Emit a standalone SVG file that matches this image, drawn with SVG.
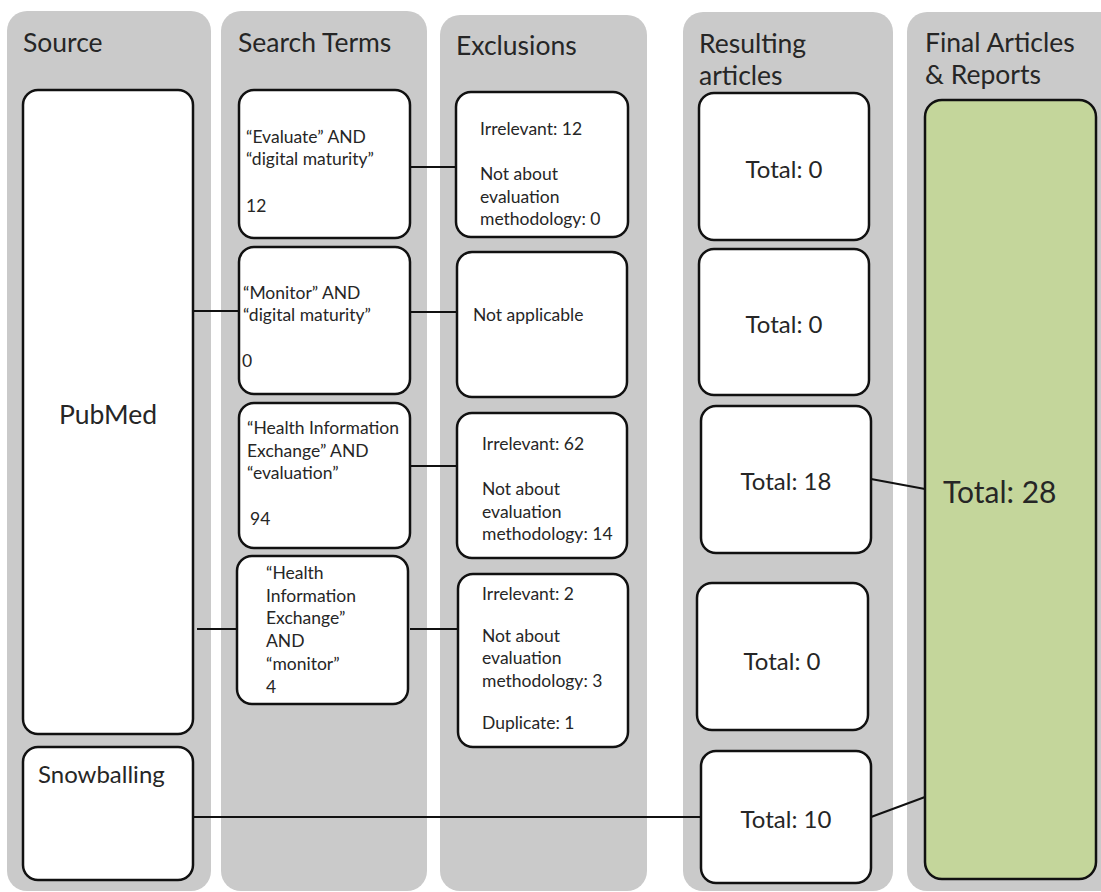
<svg xmlns="http://www.w3.org/2000/svg" width="1101" height="892" viewBox="0 0 1101 892">
<style>
.col{fill:#cacaca}
.box{fill:#ffffff;stroke:#111;stroke-width:2.5}
.fin{fill:#c4d69b;stroke:#111;stroke-width:2.5}
text{font-family:Lato,"Open Sans","Liberation Sans",sans-serif;fill:#262626}
.h{font-size:26.5px}
.s{font-size:17.5px}
.t{font-size:24px;text-anchor:middle}
.big{font-size:30px}
.c{stroke:#111;stroke-width:2;fill:none}
</style>
<rect width="1101" height="892" fill="#ffffff"/>
<g id="columns">
<rect class="col" x="7" y="11" width="204" height="880" rx="20"/>
<rect class="col" x="221" y="11" width="206" height="880" rx="20"/>
<rect class="col" x="440" y="15" width="207" height="876" rx="20"/>
<rect class="col" x="683" y="12" width="210" height="879" rx="20"/>
<rect class="col" x="907" y="12" width="215" height="879" rx="20"/>
<text class="h" x="23" y="52">Source</text>
<text class="h" x="238" y="52">Search Terms</text>
<text class="h" x="456" y="55">Exclusions</text>
<text class="h" x="699" y="53">Resulting</text>
<text class="h" x="699" y="85">articles</text>
<text class="h" x="925" y="52">Final Articles</text>
<text class="h" x="925" y="84">&amp; Reports</text>
</g>
<g id="connectors">
<line class="c" x1="188" y1="311" x2="239" y2="311"/>
<line class="c" x1="197" y1="629" x2="237" y2="629"/>
<line class="c" x1="410" y1="167" x2="456" y2="167"/>
<line class="c" x1="410" y1="312" x2="457" y2="312"/>
<line class="c" x1="410" y1="466" x2="457" y2="466"/>
<line class="c" x1="410" y1="629" x2="458" y2="629"/>
<line class="c" x1="187" y1="817" x2="701" y2="817"/>
<line class="c" x1="871" y1="479" x2="925" y2="489"/>
<line class="c" x1="871" y1="817" x2="925" y2="797"/>
</g>
<g id="pubmed">
<rect class="box" x="23" y="90" width="170" height="644" rx="15"/>
<text class="h" x="108" y="424" text-anchor="middle">PubMed</text>
</g>
<g id="snowballing">
<rect class="box" x="23" y="747" width="170" height="133" rx="15"/>
<text x="38" y="783" font-size="24">Snowballing</text>
</g>
<g id="search1">
<rect class="box" x="239" y="90" width="171" height="148" rx="15"/>
<text class="s" x="246" y="143">“Evaluate” AND</text>
<text class="s" x="246" y="165">“digital maturity”</text>
<text class="s" x="246" y="212">12</text>
</g>
<g id="search2">
<rect class="box" x="239" y="247" width="171" height="147" rx="15"/>
<text class="s" x="243" y="299">“Monitor” AND</text>
<text class="s" x="243" y="321">“digital maturity”</text>
<text class="s" x="242" y="367">0</text>
</g>
<g id="search3">
<rect class="box" x="239" y="403" width="171" height="145" rx="15"/>
<text class="s" x="247" y="434">“Health Information</text>
<text class="s" x="247" y="457">Exchange” AND</text>
<text class="s" x="247" y="479">“evaluation”</text>
<text class="s" x="250" y="525">94</text>
</g>
<g id="search4">
<rect class="box" x="237" y="556" width="171" height="148" rx="15"/>
<text class="s" x="266" y="579">“Health</text>
<text class="s" x="266" y="602">Information</text>
<text class="s" x="266" y="624">Exchange”</text>
<text class="s" x="266" y="647">AND</text>
<text class="s" x="266" y="670">“monitor”</text>
<text class="s" x="266" y="693">4</text>
</g>
<g id="excl1">
<rect class="box" x="456" y="92" width="172" height="145" rx="15"/>
<text class="s" x="480" y="135">Irrelevant: 12</text>
<text class="s" x="480" y="180">Not about</text>
<text class="s" x="480" y="203">evaluation</text>
<text class="s" x="480" y="225">methodology: 0</text>
</g>
<g id="excl2">
<rect class="box" x="457" y="252" width="170" height="145" rx="15"/>
<text class="s" x="473" y="321">Not applicable</text>
</g>
<g id="excl3">
<rect class="box" x="457" y="413" width="170" height="145" rx="15"/>
<text class="s" x="482" y="450">Irrelevant: 62</text>
<text class="s" x="482" y="495">Not about</text>
<text class="s" x="482" y="518">evaluation</text>
<text class="s" x="482" y="540">methodology: 14</text>
</g>
<g id="excl4">
<rect class="box" x="458" y="574" width="170" height="173" rx="15"/>
<text class="s" x="482" y="600">Irrelevant: 2</text>
<text class="s" x="482" y="642">Not about</text>
<text class="s" x="482" y="664">evaluation</text>
<text class="s" x="482" y="687">methodology: 3</text>
<text class="s" x="482" y="729">Duplicate: 1</text>
</g>
<g id="result1">
<rect class="box" x="699" y="93" width="170" height="147" rx="15"/>
<text class="t" x="784" y="178">Total: 0</text>
</g>
<g id="result2">
<rect class="box" x="699" y="249" width="170" height="146" rx="15"/>
<text class="t" x="784" y="333">Total: 0</text>
</g>
<g id="result3">
<rect class="box" x="701" y="406" width="170" height="147" rx="15"/>
<text class="t" x="786" y="490">Total: 18</text>
</g>
<g id="result4">
<rect class="box" x="697" y="583" width="171" height="147" rx="15"/>
<text class="t" x="782" y="670">Total: 0</text>
</g>
<g id="result5">
<rect class="box" x="701" y="751" width="170" height="132" rx="15"/>
<text class="t" x="786" y="828">Total: 10</text>
</g>
<g id="final">
<rect class="fin" x="925" y="100" width="171" height="779" rx="17"/>
<text class="big" x="943" y="503">Total: 28</text>
</g>
</svg>
